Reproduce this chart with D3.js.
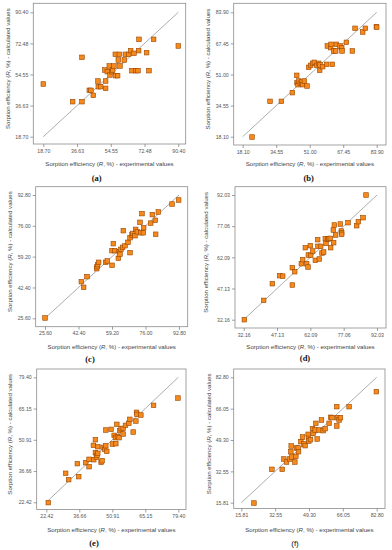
<!DOCTYPE html>
<html><head><meta charset="utf-8">
<script src="https://cdn.jsdelivr.net/npm/d3@7"></script>
<style>
body{margin:0;background:#fff;}
svg{display:block;}
</style></head>
<body>
<svg id="chart" width="392" height="550"></svg>
<script>
// ---- data ----
const panelNames = ["(a)","(b)","(c)","(d)","(e)","(f)"];
const ticksA = [18.70,36.63,54.55,72.48,90.40];
const ticksB = [18.10,34.55,51.00,67.45,83.90];
const ticksC = [25.60,42.40,59.20,76.00,92.80];
const ticksD = [32.16,47.13,62.09,77.06,92.03];
const ticksE = [22.42,36.66,50.91,65.15,79.40];
const ticksF = [15.81,32.55,49.30,66.05,82.80];

const expA = [18.70,34.28,39.24,39.24,43.13,44.0,45.26,47.91,47.73,49.15,51.81,51.81,51.46,52.70,53.75,54.11,54.99,55.52,56.23,56.94,57.29,58.18,58.53,59.07,59.42,61.72,62.25,64.02,65.08,65.79,66.85,67.92,68.98,69.33,69.51,73.58,74.82,77.30,90.40];
const calA = [49.07,38.88,38.88,64.45,45.42,45.42,42.54,47.53,50.80,47.53,50.80,46.57,57.15,56.18,59.45,54.26,56.18,57.15,59.45,66.18,53.88,53.88,62.91,66.18,59.45,62.91,66.18,66.18,68.30,56.76,66.76,56.76,56.76,68.30,74.83,67.14,56.76,74.83,70.99];

const expB = [22.68,31.52,37.09,42.49,44.62,44.78,45.27,45.60,46.42,47.07,47.56,48.38,49.69,50.51,51.49,52.47,53.29,54.44,55.42,55.91,56.07,57.38,59.35,59.67,61.31,61.47,62.12,62.77,63.77,64.10,65.90,66.72,66.88,69.01,71.95,73.26,77.03,78.34,83.74,83.90];
const calB = [17.93,36.80,36.80,41.39,50.56,46.68,45.62,47.56,46.33,47.03,45.62,47.56,44.91,54.79,55.85,56.91,57.44,55.85,56.91,53.21,56.03,55.15,56.38,66.08,65.20,66.96,56.38,63.44,63.44,66.96,66.08,65.20,63.44,68.02,63.44,75.43,73.49,75.43,76.32,76.00];

const expC = [25.60,43.82,44.99,46.66,51.51,51.68,52.01,52.51,56.02,56.86,59.20,59.20,59.87,60.54,62.38,62.88,63.21,63.71,64.55,64.88,65.72,67.22,68.23,68.23,69.23,69.73,70.73,71.07,71.90,73.24,73.74,74.24,74.91,75.08,78.60,79.43,80.93,81.10,82.44,89.29,92.63];
const calC = [25.78,45.58,42.49,48.30,52.66,53.75,54.84,56.11,56.11,56.84,54.48,62.47,66.28,62.47,58.30,61.92,60.47,63.19,64.28,73.36,65.19,67.00,69.55,61.38,71.00,71.85,70.62,74.05,72.76,77.90,72.22,82.66,72.22,74.96,77.46,82.12,79.02,71.40,83.54,87.88,90.06];

const expD = [32.46,41.14,45.03,48.32,49.67,54.01,54.01,55.06,58.05,58.65,59.85,60.45,61.05,61.20,62.09,62.24,63.14,64.34,65.39,65.53,66.13,66.73,67.33,68.08,68.82,69.12,69.87,70.32,71.06,71.21,72.41,72.56,72.87,73.46,75.56,76.01,76.16,76.16,79.00,82.90,83.65,85.74,87.09];
const calD = [32.16,41.44,49.45,53.29,53.09,48.81,57.13,55.21,59.05,60.98,66.74,59.05,57.45,63.22,67.70,63.06,65.14,60.66,70.58,67.38,61.30,67.38,64.18,64.66,71.06,68.82,70.90,71.06,71.22,66.74,75.22,69.14,77.62,72.82,78.10,74.74,73.94,73.14,78.74,77.30,79.22,81.14,92.03];

const expE = [23.28,30.78,32.08,35.83,36.41,39.44,40.88,40.88,42.90,42.76,43.62,43.62,44.06,44.35,44.64,44.64,46.08,46.51,46.95,47.67,48.10,48.10,48.53,50.41,50.98,51.71,52.28,52.43,52.86,53.15,53.87,54.16,54.74,55.60,55.60,56.61,58.05,58.48,59.93,61.08,61.37,61.51,63.24,68.72,79.25];
const calE = [22.27,35.64,32.75,40.04,34.12,40.49,42.01,38.66,41.85,48.38,50.96,45.06,42.93,43.84,44.75,47.77,40.64,41.39,47.47,46.55,48.23,55.37,45.64,55.67,48.99,52.94,51.88,49.14,57.95,52.33,51.88,55.07,55.98,56.13,53.55,57.50,58.41,60.24,54.46,59.47,63.42,62.51,62.20,66.61,69.95];

const expF = [22.06,30.95,36.05,36.87,38.19,39.84,40.33,40.50,40.83,42.31,42.80,43.13,43.95,44.12,45.27,46.10,46.75,47.41,48.89,49.06,49.22,50.05,51.04,51.36,52.35,52.68,53.34,54.32,55.48,56.30,57.29,59.26,60.08,60.74,63.05,63.05,63.38,64.20,64.86,69.14,82.64];
const calF = [15.63,33.63,33.63,39.15,37.55,39.15,43.07,46.10,40.22,37.55,40.57,45.03,45.03,43.07,48.42,50.91,47.17,46.28,52.34,50.20,48.77,49.49,55.37,52.87,54.65,58.21,49.84,54.65,59.99,54.29,55.37,58.21,61.42,61.24,67.12,56.79,61.24,59.99,61.24,67.12,75.13];

// ---- layout (pixel geometry, not data) ----
const layout = [
  {ticks:ticksA, exp:expA, cal:calA, px:[43.3,178.3], py:[136.7,12.3], box:[33.3,3.3,185.7,144], xt:165.5, yt:8,   lab:[96.7,180.8], bold:true},
  {ticks:ticksB, exp:expB, cal:calB, px:[242.7,376.7], py:[136.7,12.3], box:[233.7,3.3,386,145], xt:165.5, yt:208, lab:[308.7,180.8], bold:true},
  {ticks:ticksC, exp:expC, cal:calC, px:[45,179], py:[318.3,195], box:[35.7,186.7,187.7,326.7], xt:349, yt:10, lab:[90,362], bold:true},
  {ticks:ticksD, exp:expD, cal:calD, px:[243.7,377], py:[319.7,195], box:[235,186.7,386,328], xt:349, yt:206, lab:[305,361], bold:true},
  {ticks:ticksE, exp:expE, cal:calE, px:[46.3,178.3], py:[502.3,377.3], box:[36.7,369,186,509.5], xt:531.5, yt:10, lab:[94,546], bold:true},
  {ticks:ticksF, exp:expF, cal:calF, px:[241.3,376.7], py:[502.7,377.3], box:[233.7,369,385,508.5], xt:531.5, yt:209, lab:[295,546], bold:false}
];

const svg = d3.select("#chart");
const fmt = d3.format(".2f");

layout.forEach((p,i)=>{
  const t = p.ticks;
  const x = d3.scaleLinear().domain([t[0], t[t.length-1]]).range(p.px);
  const y = d3.scaleLinear().domain([t[0], t[t.length-1]]).range(p.py);
  const g = svg.append("g");
  const [bx0,by0,bx1,by1] = p.box;

  // frame
  g.append("rect").attr("x",bx0).attr("y",by0).attr("width",bx1-bx0).attr("height",by1-by0)
    .attr("fill","none").attr("stroke","#8c8c8c").attr("stroke-width",0.8);

  // axes
  const xa = g.append("g").attr("transform",`translate(0,${by1})`)
    .call(d3.axisBottom(x).tickValues(t).tickFormat(fmt).tickSize(3).tickPadding(2));
  const ya = g.append("g").attr("transform",`translate(${bx0},0)`)
    .call(d3.axisLeft(y).tickValues(t).tickFormat(fmt).tickSize(3).tickPadding(2));
  [xa,ya].forEach(a=>{
    a.select(".domain").remove();
    a.selectAll("line").attr("stroke","#777").attr("stroke-width",0.7);
    a.selectAll("text").attr("font-family","Liberation Sans, Arial, sans-serif")
      .attr("font-size",5.2).attr("fill","#555");
  });

  // diagonal
  g.append("line").attr("x1",x(t[0])).attr("y1",y(t[0]))
    .attr("x2",x(t[t.length-1])).attr("y2",y(t[t.length-1]))
    .attr("stroke","#8a8a8a").attr("stroke-width",0.7);

  // points
  const s = 4.6;
  g.selectAll("rect.pt").data(p.exp.map((e,k)=>[e,p.cal[k]])).enter().append("rect")
    .attr("class","pt")
    .attr("x",d=>x(d[0])-s/2).attr("y",d=>y(d[1])-s/2)
    .attr("width",s).attr("height",s)
    .attr("fill","#f5891c").attr("stroke","#9a4600").attr("stroke-width",0.6);

  // x title
  const cx = (bx0+bx1)/2;
  const xtitle = g.append("text").attr("x",cx).attr("y",p.xt).attr("text-anchor","middle")
    .attr("font-family","Liberation Sans, Arial, sans-serif").attr("font-size",6.1).attr("fill","#444");
  xtitle.append("tspan").text("Sorption efficiency (");
  xtitle.append("tspan").attr("font-style","italic").text("R");
  xtitle.append("tspan").text(", %) - experimental values");

  // y title
  const cy = (by0+by1)/2 - 5;
  const ytitle = g.append("text").attr("transform",`translate(${p.yt+2},${cy}) rotate(-90)`)
    .attr("text-anchor","middle")
    .attr("font-family","Liberation Sans, Arial, sans-serif").attr("font-size",6.1).attr("fill","#444");
  ytitle.append("tspan").text("Sorption efficiency (");
  ytitle.append("tspan").attr("font-style","italic").text("R");
  ytitle.append("tspan").text(", %) - calculated values");

  // panel label
  g.append("text").attr("x",p.lab[0]).attr("y",p.lab[1]).attr("text-anchor","middle")
    .attr("font-family", p.bold ? "Liberation Serif, Times New Roman, serif" : "Liberation Sans, Arial, sans-serif")
    .attr("font-weight", p.bold ? "bold" : "normal")
    .attr("font-size", p.bold ? 8.5 : 8).attr("fill","#111").text(panelNames[i]);
});
</script>
</body></html>
